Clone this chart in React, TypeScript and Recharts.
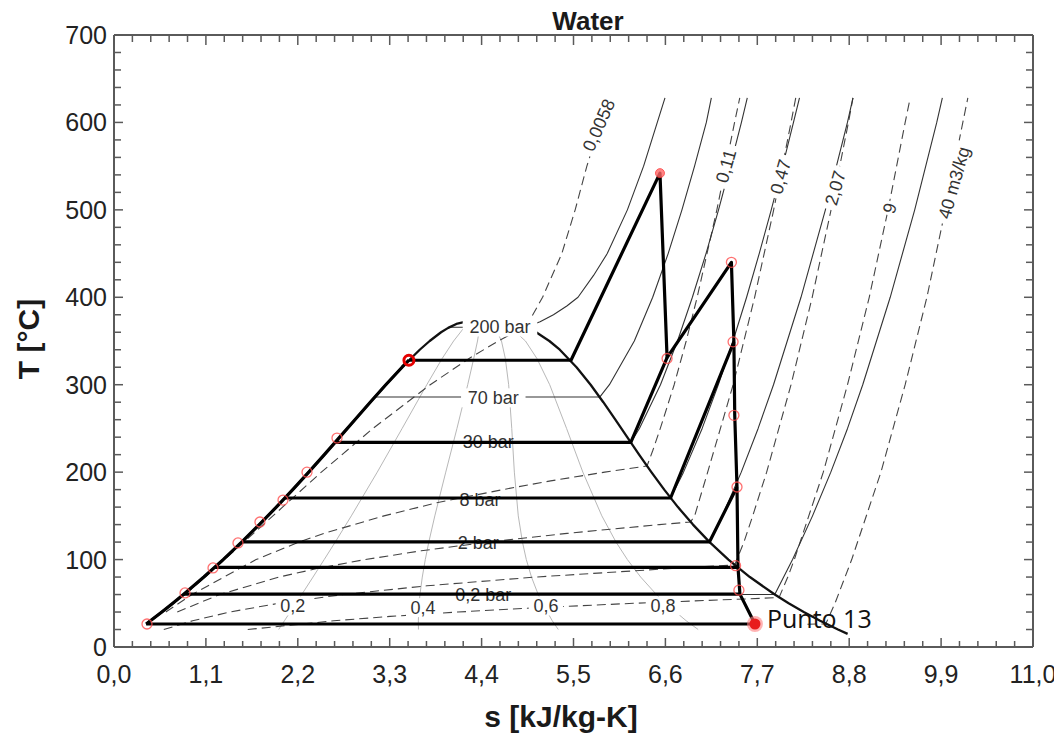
import React from "react";
import { ComposedChart, Line, Scatter, XAxis, YAxis } from "recharts";

const FONT = '"Liberation Sans", Arial, Helvetica, sans-serif';

// ---------- axis ticks ----------
const X_MAJOR_LABELS = ["0,0", "1,1", "2,2", "3,3", "4,4", "5,5", "6,6", "7,7", "8,8", "9,9", "11,0"];
const Y_MAJOR_LABELS = ["0", "100", "200", "300", "400", "500", "600", "700"];
const X_TICKS = Array.from({ length: 51 }, (_, k) => Math.round(k * 22) / 100);
const Y_TICKS = Array.from({ length: 36 }, (_, k) => k * 20);

// ---------- saturation dome (s kJ/kg-K, T °C) ----------
const DOME = [
  { s: 0.385, T: 26.3 }, { s: 0.4369, T: 30 }, { s: 0.5725, T: 40 },
  { s: 0.7038, T: 50 }, { s: 0.8312, T: 60 }, { s: 1.0753, T: 80 }, { s: 1.3069, T: 100 },
  { s: 1.5279, T: 120 }, { s: 1.7391, T: 140 }, { s: 1.9427, T: 160 }, { s: 2.1396, T: 180 },
  { s: 2.3309, T: 200 }, { s: 2.5178, T: 220 }, { s: 2.7015, T: 240 }, { s: 2.8838, T: 260 },
  { s: 3.0668, T: 280 }, { s: 3.2534, T: 300 }, { s: 3.448, T: 320 }, { s: 3.6594, T: 340 },
  { s: 3.7784, T: 350 }, { s: 3.9147, T: 360 }, { s: 4.0, T: 365 }, { s: 4.1106, T: 370 },
  { s: 4.25, T: 373 }, { s: 4.407, T: 374 }, { s: 4.56, T: 373 }, { s: 4.8, T: 370 },
  { s: 4.94, T: 365 }, { s: 5.053, T: 360 }, { s: 5.211, T: 350 }, { s: 5.336, T: 340 },
  { s: 5.536, T: 320 }, { s: 5.705, T: 300 }, { s: 5.857, T: 280 }, { s: 6.001, T: 260 },
  { s: 6.143, T: 240 }, { s: 6.285, T: 220 }, { s: 6.432, T: 200 }, { s: 6.586, T: 180 },
  { s: 6.75, T: 160 }, { s: 6.93, T: 140 }, { s: 7.129, T: 120 }, { s: 7.354, T: 100 },
  { s: 7.611, T: 80 }, { s: 7.909, T: 60 }, { s: 8.075, T: 50 }, { s: 8.256, T: 40 },
  { s: 8.452, T: 30 }, { s: 8.666, T: 20 }, { s: 8.781, T: 15 },
];

// ---------- isobars ----------
const P200 = [
  { s: 4.015, T: 365.8 }, { s: 4.927, T: 365.8 }, { s: 5.1, T: 372 }, { s: 5.26, T: 380 },
  { s: 5.42, T: 390 }, { s: 5.554, T: 400 }, { s: 5.74, T: 425 }, { s: 5.904, T: 450 },
  { s: 6.145, T: 500 }, { s: 6.339, T: 550 }, { s: 6.503, T: 600 }, { s: 6.595, T: 628 },
];
const P70 = [
  { s: 3.122, T: 285.9 }, { s: 5.814, T: 285.9 }, { s: 5.93, T: 300 }, { s: 6.228, T: 350 },
  { s: 6.448, T: 400 }, { s: 6.633, T: 450 }, { s: 6.798, T: 500 }, { s: 6.949, T: 550 },
  { s: 7.09, T: 600 }, { s: 7.15, T: 628 },
];
const P30 = [
  { s: 2.646, T: 233.9 }, { s: 6.186, T: 233.9 }, { s: 6.289, T: 250 }, { s: 6.541, T: 300 },
  { s: 6.745, T: 350 }, { s: 6.923, T: 400 }, { s: 7.086, T: 450 }, { s: 7.236, T: 500 },
  { s: 7.376, T: 550 }, { s: 7.51, T: 600 }, { s: 7.58, T: 628 },
];
const P8 = [
  { s: 2.046, T: 170.4 }, { s: 6.662, T: 170.4 }, { s: 6.817, T: 200 }, { s: 7.04, T: 250 },
  { s: 7.233, T: 300 }, { s: 7.409, T: 350 }, { s: 7.572, T: 400 }, { s: 7.723, T: 450 },
  { s: 7.867, T: 500 }, { s: 8.003, T: 550 }, { s: 8.133, T: 600 }, { s: 8.205, T: 628 },
];
const P2 = [
  { s: 1.53, T: 120.2 }, { s: 7.127, T: 120.2 }, { s: 7.281, T: 150 }, { s: 7.508, T: 200 },
  { s: 7.71, T: 250 }, { s: 7.894, T: 300 }, { s: 8.223, T: 400 }, { s: 8.515, T: 500 },
  { s: 8.779, T: 600 }, { s: 8.845, T: 628 },
];
const P02 = [
  { s: 0.832, T: 60.06 }, { s: 7.909, T: 60.06 }, { s: 8.122, T: 100 }, { s: 8.361, T: 150 },
  { s: 8.58, T: 200 }, { s: 8.78, T: 250 }, { s: 8.962, T: 300 }, { s: 9.291, T: 400 },
  { s: 9.584, T: 500 }, { s: 9.848, T: 600 }, { s: 9.915, T: 628 },
];

// ---------- isochores (m3/kg) ----------
const V0058 = [
  { s: 0.85, T: 60 }, { s: 1.324, T: 100 }, { s: 1.902, T: 150 }, { s: 2.482, T: 200 },
  { s: 3.099, T: 250 }, { s: 3.785, T: 300 }, { s: 4.25, T: 330 }, { s: 4.6, T: 350 },
  { s: 4.795, T: 360 }, { s: 4.93, T: 365.8 }, { s: 5.13, T: 400 }, { s: 5.36, T: 450 },
  { s: 5.52, T: 500 }, { s: 5.66, T: 550 }, { s: 5.7, T: 562 },
];
const V011 = [
  { s: 0.62, T: 40 }, { s: 0.932, T: 60 }, { s: 1.701, T: 100 }, { s: 2.213, T: 120 },
  { s: 2.515, T: 130 }, { s: 3.232, T: 150 }, { s: 3.863, T: 165 }, { s: 4.653, T: 180 },
  { s: 5.226, T: 190 }, { s: 5.874, T: 200 }, { s: 6.38, T: 207 }, { s: 6.45, T: 225 },
  { s: 6.539, T: 250 }, { s: 6.705, T: 300 }, { s: 6.849, T: 350 }, { s: 6.98, T: 400 },
  { s: 7.216, T: 500 }, { s: 7.428, T: 600 }, { s: 7.49, T: 628 },
];
const V047 = [
  { s: 0.757, T: 40 }, { s: 1.264, T: 60 }, { s: 1.975, T: 80 }, { s: 2.442, T: 90 },
  { s: 3.005, T: 100 }, { s: 3.677, T: 110 }, { s: 4.476, T: 120 }, { s: 5.423, T: 130 },
  { s: 6.528, T: 140 }, { s: 6.9, T: 143 }, { s: 6.95, T: 150 }, { s: 7.106, T: 200 },
  { s: 7.411, T: 300 }, { s: 7.668, T: 400 }, { s: 7.896, T: 500 }, { s: 8.104, T: 600 },
  { s: 8.16, T: 628 },
];
const V207 = [
  { s: 0.596, T: 20 }, { s: 0.941, T: 30 }, { s: 1.387, T: 40 }, { s: 1.972, T: 50 },
  { s: 2.741, T: 60 }, { s: 3.745, T: 70 }, { s: 5.046, T: 80 }, { s: 6.704, T: 90 },
  { s: 7.43, T: 93.8 }, { s: 7.54, T: 120 }, { s: 7.645, T: 150 }, { s: 7.812, T: 200 },
  { s: 8.104, T: 300 }, { s: 8.357, T: 400 }, { s: 8.583, T: 500 }, { s: 8.791, T: 600 },
  { s: 8.845, T: 628 },
];
const V9 = [
  { s: 1.601, T: 20 }, { s: 2.63, T: 30 }, { s: 3.306, T: 35 },
  { s: 4.114, T: 40 }, { s: 5.08, T: 45 }, { s: 6.217, T: 50 }, { s: 7.565, T: 55 },
  { s: 7.96, T: 56.5 }, { s: 8.065, T: 80 }, { s: 8.143, T: 100 }, { s: 8.49, T: 200 },
  { s: 8.78, T: 300 }, { s: 9.04, T: 400 }, { s: 9.265, T: 500 }, { s: 9.47, T: 600 },
  { s: 9.53, T: 628 },
];
const V40 = [
  { s: 8.3, T: 26 }, { s: 8.52, T: 26.5 },
  { s: 8.63, T: 50 }, { s: 8.83, T: 100 }, { s: 9.18, T: 200 }, { s: 9.47, T: 300 },
  { s: 9.73, T: 400 }, { s: 9.95, T: 500 }, { s: 10.16, T: 600 }, { s: 10.22, T: 628 },
];

// ---------- vapour quality lines ----------
const Q02 = [
  { s: 1.971, T: 20 }, { s: 2.04, T: 30 }, { s: 2.178, T: 50 },
  { s: 2.247, T: 60 }, { s: 2.382, T: 80 }, { s: 2.516, T: 100 }, { s: 2.648, T: 120 },
  { s: 2.841, T: 150 }, { s: 3.151, T: 200 }, { s: 3.449, T: 250 }, { s: 3.744, T: 300 },
  { s: 3.928, T: 330 }, { s: 4.065, T: 350 }, { s: 4.188, T: 365 }, { s: 4.248, T: 370 },
  { s: 4.407, T: 374 },
];
const Q04 = [
  { s: 3.644, T: 20 }, { s: 3.643, T: 30 }, { s: 3.652, T: 50 },
  { s: 3.662, T: 60 }, { s: 3.69, T: 80 }, { s: 3.726, T: 100 }, { s: 3.768, T: 120 },
  { s: 3.84, T: 150 }, { s: 3.971, T: 200 }, { s: 4.105, T: 250 }, { s: 4.234, T: 300 },
  { s: 4.306, T: 330 }, { s: 4.351, T: 350 }, { s: 4.376, T: 365 }, { s: 4.386, T: 370 },
  { s: 4.407, T: 374 },
];
const Q06 = [
  { s: 5.318, T: 20 }, { s: 5.246, T: 30 }, { s: 5.127, T: 50 },
  { s: 5.078, T: 60 }, { s: 4.997, T: 80 }, { s: 4.935, T: 100 }, { s: 4.889, T: 120 },
  { s: 4.839, T: 150 }, { s: 4.792, T: 200 }, { s: 4.761, T: 250 }, { s: 4.724, T: 300 },
  { s: 4.684, T: 330 }, { s: 4.638, T: 350 }, { s: 4.564, T: 365 }, { s: 4.524, T: 370 },
  { s: 4.407, T: 374 },
];
const Q08 = [
  { s: 6.992, T: 20 }, { s: 6.849, T: 30 }, { s: 6.601, T: 50 },
  { s: 6.493, T: 60 }, { s: 6.304, T: 80 }, { s: 6.145, T: 100 }, { s: 6.009, T: 120 },
  { s: 5.839, T: 150 }, { s: 5.612, T: 200 }, { s: 5.417, T: 250 }, { s: 5.215, T: 300 },
  { s: 5.062, T: 330 }, { s: 4.925, T: 350 }, { s: 4.752, T: 365 }, { s: 4.662, T: 370 },
  { s: 4.407, T: 374 },
];

// ---------- plant cycle (thick lines) ----------
const CYCLE_LIQUID = [
  { s: 0.385, T: 26.3 }, { s: 0.5725, T: 40 }, { s: 0.7038, T: 50 }, { s: 0.8312, T: 60 },
  { s: 1.0753, T: 80 }, { s: 1.3069, T: 100 }, { s: 1.5279, T: 120 }, { s: 1.7391, T: 140 },
  { s: 1.9427, T: 160 }, { s: 2.1396, T: 180 }, { s: 2.3309, T: 200 }, { s: 2.5178, T: 220 },
  { s: 2.7015, T: 240 }, { s: 2.8838, T: 260 }, { s: 3.0668, T: 280 }, { s: 3.2534, T: 300 },
  { s: 3.448, T: 320 }, { s: 3.53, T: 328 },
];
const CYCLE_MAIN = [
  { s: 3.53, T: 328 }, { s: 5.47, T: 328 }, { s: 6.535, T: 542 }, { s: 6.62, T: 331 },
  { s: 7.39, T: 440 }, { s: 7.42, T: 349 }, { s: 7.43, T: 265 }, { s: 7.457, T: 183 },
  { s: 7.469, T: 91 }, { s: 7.492, T: 60.5 }, { s: 7.672, T: 26.3 },
];
const CYCLE_30 = [{ s: 2.646, T: 234 }, { s: 6.186, T: 234 }, { s: 6.62, T: 331 }];
const CYCLE_8 = [{ s: 2.046, T: 170.4 }, { s: 6.662, T: 170.4 }, { s: 7.42, T: 349 }];
const CYCLE_2 = [{ s: 1.53, T: 120.2 }, { s: 7.127, T: 120.2 }, { s: 7.457, T: 183 }];
const CYCLE_91 = [{ s: 1.21, T: 91 }, { s: 7.469, T: 91 }];
const CYCLE_60 = [{ s: 0.838, T: 60.5 }, { s: 7.492, T: 60.5 }];
const CYCLE_26 = [{ s: 0.385, T: 26.3 }, { s: 7.672, T: 26.3 }];

// ---------- state points ----------
const STATE_POINTS = [
  { s: 0.395, T: 26.3 }, { s: 0.85, T: 61.8 }, { s: 1.185, T: 90.4 }, { s: 1.484, T: 119 },
  { s: 1.747, T: 143 }, { s: 2.023, T: 168 }, { s: 2.31, T: 200 }, { s: 2.669, T: 239 },
  { s: 6.62, T: 330 }, { s: 7.39, T: 440 }, { s: 7.41, T: 349 }, { s: 7.42, T: 265 },
  { s: 7.457, T: 183 }, { s: 7.44, T: 93 }, { s: 7.48, T: 65 },
];
const RING_POINTS = [{ s: 3.53, T: 328 }];
const TOP_POINTS = [{ s: 6.535, T: 542 }];
const PUNTO_13 = [{ s: 7.672, T: 26.3, text: "Punto 13" }];

// ---------- labels ----------
const ISOBAR_LABELS = [
  { s: 4.62, T: 366, text: "200 bar" },
  { s: 4.54, T: 285, text: "70 bar" },
  { s: 4.48, T: 234.5, text: "30 bar" },
  { s: 4.38, T: 169, text: "8 bar" },
  { s: 4.36, T: 120, text: "2 bar" },
  { s: 4.42, T: 59.5, text: "0,2 bar" },
];
const QUALITY_LABELS = [
  { s: 2.14, T: 47, text: "0,2" },
  { s: 3.7, T: 45, text: "0,4" },
  { s: 5.17, T: 47, text: "0,6" },
  { s: 6.57, T: 47, text: "0,8" },
];
const ISOCHORE_LABELS = [
  { s: 5.8, T: 597, text: "0,0058" },
  { s: 7.32, T: 550, text: "0,11" },
  { s: 7.975, T: 538, text: "0,47" },
  { s: 8.63, T: 525, text: "2,07" },
  { s: 9.28, T: 502, text: "9" },
  { s: 10.05, T: 531, text: "40 m3/kg" },
];

// ---------- tick renderers ----------
const AX = "#5a5a5a";
function BottomTick(props: any) {
  const { x, y, payload } = props;
  const k = Math.round(payload.value / 0.22);
  const major = k % 5 === 0;
  return (
    <g>
      <line x1={x} x2={x} y1={y} y2={y - (major ? 9 : 6)} stroke={AX} strokeWidth={1.5} />
      {major && (
        <text x={x} y={y + 36} textAnchor="middle" fontSize={25} fontFamily={FONT} fill="#222">
          {X_MAJOR_LABELS[k / 5]}
        </text>
      )}
    </g>
  );
}
function TopTick(props: any) {
  const { x, y, payload } = props;
  const k = Math.round(payload.value / 0.22);
  const major = k % 5 === 0;
  return <line x1={x} x2={x} y1={y} y2={y + (major ? 10 : 7)} stroke={AX} strokeWidth={1.5} />;
}
function LeftTick(props: any) {
  const { x, y, payload } = props;
  const k = Math.round(payload.value / 20);
  const major = k % 5 === 0;
  return (
    <g>
      <line x1={x} x2={x + (major ? 9 : 7)} y1={y} y2={y} stroke={AX} strokeWidth={1.5} />
      {major && (
        <text x={x - 7} y={y + 9} textAnchor="end" fontSize={25} fontFamily={FONT} fill="#222">
          {Y_MAJOR_LABELS[k / 5]}
        </text>
      )}
    </g>
  );
}
function RightTick(props: any) {
  const { x, y, payload } = props;
  const k = Math.round(payload.value / 20);
  const major = k % 5 === 0;
  return <line x1={x} x2={x - (major ? 9 : 7)} y1={y} y2={y} stroke={AX} strokeWidth={1.5} />;
}

// ---------- label shapes ----------
function makeBoxLabel(fontSize: number, angle: (t: string) => number, bg: (t: string) => boolean) {
  return (props: any) => {
    const { cx, cy } = props;
    const p = props.payload || props;
    const text: string = p.text;
    const w = text.length * fontSize * 0.56 + 4;
    const h = fontSize + 1;
    return (
      <g transform={`translate(${cx},${cy}) rotate(${angle(text)})`}>
        {bg(text) && <rect x={-w / 2} y={-h / 2} width={w} height={h} fill="#fff" />}
        <text x={0} y={fontSize * 0.36} textAnchor="middle" fontSize={fontSize} fontFamily={FONT} fill="#333">
          {text}
        </text>
      </g>
    );
  };
}
const IsobarLabel = makeBoxLabel(18, () => 0, (t) => t === "200 bar" || t === "70 bar");
const QualityLabel = makeBoxLabel(18, () => 0, () => true);
const IsochoreLabel = makeBoxLabel(18, (t) => (t === "0,0058" ? -66 : -74), () => true);

const HollowDot = (props: any) => (
  <circle cx={props.cx} cy={props.cy} r={5} fill="none" stroke="#ff4d4d" strokeWidth={1.3} opacity={0.8} />
);
const RingDot = (props: any) => (
  <circle cx={props.cx} cy={props.cy} r={5} fill="none" stroke="#e60000" strokeWidth={3} />
);
const TopDot = (props: any) => (
  <circle cx={props.cx} cy={props.cy} r={4.5} fill="#ff6666" stroke="#ff3333" strokeWidth={1} opacity={0.8} />
);
const PuntoDot = (props: any) => {
  const p = props.payload || props;
  return (
    <g>
      <circle cx={props.cx} cy={props.cy} r={8} fill="#ff8080" opacity={0.6} />
      <circle cx={props.cx} cy={props.cy} r={5.5} fill="#e81c1c" />
      <text x={props.cx + 12} y={props.cy + 4} fontSize={25} fontFamily='"Open Sans", "Liberation Sans", sans-serif' fill="#111">
        {p.text}
      </text>
    </g>
  );
};

function curve(key: string, data: any[], stroke: string, width: number, dash?: string, z?: number) {
  return (
    <Line
      key={key}
      data={data}
      dataKey="T"
      type="linear"
      stroke={stroke}
      strokeWidth={width}
      strokeDasharray={dash}
      strokeLinejoin="round"
      dot={false}
      activeDot={false}
      legendType="none"
      isAnimationActive={false}
      {...(z !== undefined ? { zIndex: z } : {})}
    />
  );
}

export default function App() {
  const W = 1054;
  const H = 725;
  return (
    <div style={{ position: "relative", width: W, height: H, fontFamily: FONT }}>
      <ComposedChart width={W} height={H} margin={{ top: 23, right: 25, bottom: 36, left: 46 }}>
        <XAxis
          dataKey="s"
          type="number"
          domain={[0, 11]}
          allowDataOverflow
          ticks={X_TICKS}
          interval={0}
          tickSize={0}
          tickMargin={0}
          tick={<BottomTick />}
          tickLine={false}
          axisLine={{ stroke: AX, strokeWidth: 2 }}
          height={50}
        />
        <XAxis
          xAxisId="top"
          orientation="top"
          dataKey="s"
          type="number"
          domain={[0, 11]}
          allowDataOverflow
          ticks={X_TICKS}
          interval={0}
          tickSize={0}
          tickMargin={0}
          tick={<TopTick />}
          tickLine={false}
          axisLine={{ stroke: AX, strokeWidth: 2 }}
          height={4}
        />
        <YAxis
          type="number"
          domain={[0, 700]}
          allowDataOverflow
          ticks={Y_TICKS}
          interval={0}
          tickSize={0}
          tickMargin={0}
          tick={<LeftTick />}
          tickLine={false}
          axisLine={{ stroke: AX, strokeWidth: 2 }}
          width={60}
        />
        <YAxis
          yAxisId="right"
          orientation="right"
          type="number"
          domain={[0, 700]}
          allowDataOverflow
          ticks={Y_TICKS}
          interval={0}
          tickSize={0}
          tickMargin={0}
          tick={<RightTick />}
          tickLine={false}
          axisLine={{ stroke: AX, strokeWidth: 2 }}
          width={4}
        />

        {curve("q02", Q02, "#b8b8b8", 1)}
        {curve("q04", Q04, "#b8b8b8", 1)}
        {curve("q06", Q06, "#b8b8b8", 1)}
        {curve("q08", Q08, "#b8b8b8", 1)}

        {curve("v0058", V0058, "#444", 1.1, "9 5")}
        {curve("v011", V011, "#444", 1.1, "9 5")}
        {curve("v047", V047, "#444", 1.1, "9 5")}
        {curve("v207", V207, "#444", 1.1, "9 5")}
        {curve("v9", V9, "#444", 1.1, "9 5")}
        {curve("v40", V40, "#444", 1.1, "9 5")}

        {curve("p200", P200, "#333", 1.1)}
        {curve("p70", P70, "#333", 1.1)}
        {curve("p30", P30, "#333", 1.1)}
        {curve("p8", P8, "#333", 1.1)}
        {curve("p2", P2, "#333", 1.1)}
        {curve("p02", P02, "#333", 1.1)}

        {curve("dome", DOME, "#111", 2.3, undefined, 450)}

        <Scatter data={ISOBAR_LABELS} dataKey="T" shape={IsobarLabel} isAnimationActive={false} legendType="none" />
        <Scatter data={QUALITY_LABELS} dataKey="T" shape={QualityLabel} isAnimationActive={false} legendType="none" />
        <Scatter data={ISOCHORE_LABELS} dataKey="T" shape={IsochoreLabel} isAnimationActive={false} legendType="none" />

        {curve("c_liq", CYCLE_LIQUID, "#000", 3.2, undefined, 700)}
        {curve("c_main", CYCLE_MAIN, "#000", 3.2, undefined, 700)}
        {curve("c_30", CYCLE_30, "#000", 3.2, undefined, 700)}
        {curve("c_8", CYCLE_8, "#000", 3.2, undefined, 700)}
        {curve("c_2", CYCLE_2, "#000", 3.2, undefined, 700)}
        {curve("c_91", CYCLE_91, "#000", 3.2, undefined, 700)}
        {curve("c_60", CYCLE_60, "#000", 3.2, undefined, 700)}
        {curve("c_26", CYCLE_26, "#000", 3.2, undefined, 700)}

        <Scatter data={STATE_POINTS} dataKey="T" shape={HollowDot} isAnimationActive={false} legendType="none" {...({ zIndex: 800 } as any)} />
        <Scatter data={RING_POINTS} dataKey="T" shape={RingDot} isAnimationActive={false} legendType="none" {...({ zIndex: 800 } as any)} />
        <Scatter data={TOP_POINTS} dataKey="T" shape={TopDot} isAnimationActive={false} legendType="none" {...({ zIndex: 800 } as any)} />
        <Scatter data={PUNTO_13} dataKey="T" shape={PuntoDot} isAnimationActive={false} legendType="none" {...({ zIndex: 800 } as any)} />
      </ComposedChart>

      <div style={{ position: "absolute", left: 580, top: 13, transform: "translate(-50%,-50%)", fontWeight: "bold", fontSize: 26, lineHeight: 1, color: "#1a1a1a", whiteSpace: "nowrap" }}>
        Water
      </div>
      <div style={{ position: "absolute", left: 21, top: 331, transform: "translate(-50%,-50%) rotate(-90deg)", fontWeight: "bold", fontSize: 30, lineHeight: 1, color: "#1a1a1a", whiteSpace: "nowrap" }}>
        T [°C]
      </div>
      <div style={{ position: "absolute", left: 553, top: 709, transform: "translate(-50%,-50%)", fontWeight: "bold", fontSize: 30, lineHeight: 1, color: "#1a1a1a", whiteSpace: "nowrap" }}>
        s [kJ/kg-K]
      </div>
    </div>
  );
}
